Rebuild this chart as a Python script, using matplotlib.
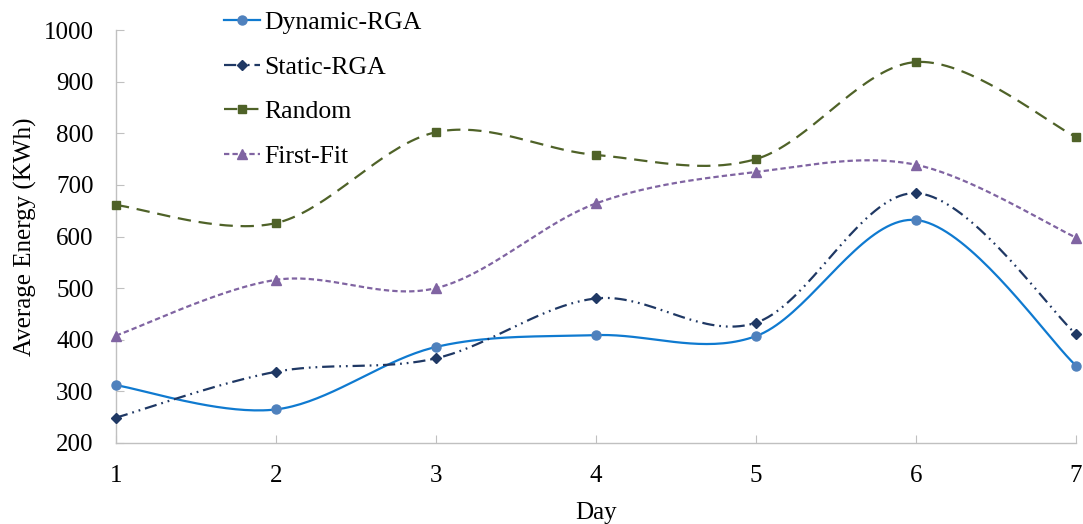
import numpy as np
import matplotlib
matplotlib.use("Agg")
import matplotlib.pyplot as plt

plt.rcParams['font.family'] = ['Liberation Serif', 'DejaVu Serif']

days = [1, 2, 3, 4, 5, 6, 7]
dynamic_rga = [312, 265, 386, 409, 407, 632, 350]
static_rga = [249, 338, 364, 480, 433, 684, 411]
random_alloc = [661, 626, 802, 758, 750, 938, 793]
first_fit = [408, 516, 500, 664, 725, 739, 598]

y_ticks = [200, 300, 400, 500, 600, 700, 800, 900, 1000]


def smooth(xs, ys, n=40):
    # cubic bezier through the points, tangents from neighbours (1/6 factor)
    p = np.column_stack([xs, ys]).astype(float)
    ext = np.vstack([p[0], p, p[-1]])
    out = []
    t = np.linspace(0, 1, n)[:, None]
    for i in range(len(p) - 1):
        p0, p1, p2, p3 = ext[i], ext[i + 1], ext[i + 2], ext[i + 3]
        c1 = p1 + (p2 - p0) / 6
        c2 = p2 - (p3 - p1) / 6
        seg = ((1 - t) ** 3) * p1 + 3 * ((1 - t) ** 2) * t * c1 \
            + 3 * (1 - t) * t ** 2 * c2 + t ** 3 * p2
        out.append(seg if i == 0 else seg[1:])
    seg = np.vstack(out)
    return seg[:, 0], seg[:, 1]


series = [
    ("Dynamic-RGA", dynamic_rga, "#0f7ad0", "#4f81bd", "o", 6.5, None),
    ("Static-RGA", static_rga, "#1f3864", "#1f3864", "D", 5.5, (5.5, 2.2, 0.8, 2.2, 0.8, 2.2)),
    ("Random", random_alloc, "#4f6228", "#4f6228", "s", 6.0, (6, 3.5)),
    ("First-Fit", first_fit, "#8064a2", "#8064a2", "^", 6.5, (2.4, 1.4)),
]

fig = plt.figure(figsize=(10.83, 5.24), dpi=100)
ax = fig.add_axes([0.107, 0.1546, 0.8865, 0.7881])

for name, vals, lc, mc, mk, ms, dash in series:
    sx, sy = smooth(days, vals)
    line, = ax.plot(sx, sy, color=lc, lw=1.6, clip_on=False)
    if dash is not None:
        line.set_dashes(dash)
    ax.plot(days, vals, linestyle='none', marker=mk, ms=ms, color=mc,
            clip_on=False, zorder=3)
    # legend proxy
    h, = ax.plot([], [], color=lc, lw=1.6, marker=mk, ms=ms,
                 markerfacecolor=mc, markeredgecolor=mc, label=name)
    if dash is not None:
        h.set_dashes(dash)

ax.set_xlim(1, 7)
ax.set_ylim(200, 1000)
ax.set_xticks(days)
ax.set_yticks(y_ticks)

for s in ['top', 'right']:
    ax.spines[s].set_visible(False)
for s in ['left', 'bottom']:
    ax.spines[s].set_color('#c0c0c0')
    ax.spines[s].set_linewidth(1.0)

ax.tick_params(axis='both', direction='in', length=6, color='#c0c0c0',
               labelsize=18)
ax.tick_params(axis='x', pad=16)
ax.tick_params(axis='y', pad=16)

ax.set_xlabel("Day", fontsize=18, labelpad=11)
ax.set_ylabel("Average Energy (KWh)", fontsize=18, labelpad=5)

fig.legend(loc='upper left', bbox_to_anchor=(0.207, 0.979), frameon=False,
           fontsize=18.5, handlelength=1.4, handletextpad=0.15,
           labelspacing=0.84, borderpad=0, borderaxespad=0)

fig.savefig("out.png", dpi=100)
